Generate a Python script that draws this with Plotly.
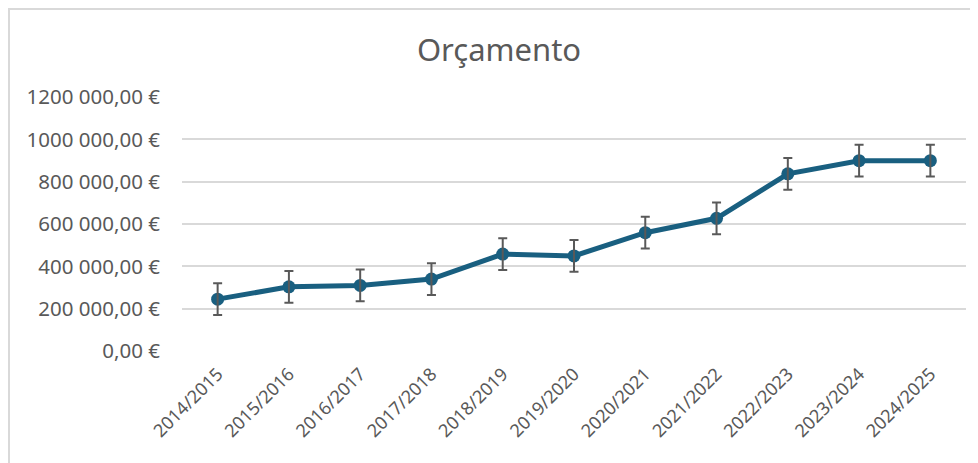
import plotly.graph_objects as go

categories = ["2014/2015", "2015/2016", "2016/2017", "2017/2018", "2018/2019",
              "2019/2020", "2020/2021", "2021/2022", "2022/2023", "2023/2024", "2024/2025"]
values = [245000, 303000, 310000, 340000, 458000, 449000, 559000, 627000, 837000, 899000, 899000]
error_value = 75000
tick_vals = [0, 200000, 400000, 600000, 800000, 1000000, 1200000]
tick_text = ["0,00 €", "200 000,00 €", "400 000,00 €", "600 000,00 €",
             "800 000,00 €", "1000 000,00 €", "1200 000,00 €"]

FONT = "Noto Sans"
GRAY = "#595959"
LINE = "#195F80"
OFF = 8  # default page body margin
W, H = 978 - OFF, 463 - OFF
# plot area in page pixels: x 182..966, y 97..351
L, T = 182 - OFF, 97 - OFF
R = W - (966 - OFF)
B = H - (351 - OFF)

fig = go.Figure()
fig.add_trace(go.Scatter(
    x=categories, y=values, mode="lines+markers",
    line=dict(color=LINE, width=5),
    marker=dict(color=LINE, size=13),
    showlegend=False,
))
# error bars drawn on top of the line and markers
fig.add_trace(go.Scatter(
    x=categories, y=values, mode="markers",
    marker=dict(color="rgba(0,0,0,0)", size=1),
    error_y=dict(type="constant", value=error_value, color=GRAY, thickness=2, width=4.5),
    showlegend=False, hoverinfo="skip",
))

pw = W - L - R
ph = H - T - B
fig.add_shape(type="rect", xref="paper", yref="paper",
              x0=(9 - OFF - L) / pw, x1=(W + 20 - L) / pw,
              y0=-(40 + B) / ph, y1=((H - B) - (9 - OFF)) / ph,
              line=dict(color="#d9d9d9", width=2), fillcolor="rgba(0,0,0,0)", layer="below")

fig.update_layout(
    width=W, height=H,
    margin=dict(l=L, r=R, t=T, b=B, autoexpand=False),
    paper_bgcolor="white", plot_bgcolor="white",
    font=dict(family=FONT, color=GRAY),
    title=dict(text="Orçamento", xref="container", x=(499 - OFF) / W, xanchor="center",
               yref="container", y=1 - (50 - OFF) / H, yanchor="middle",
               font=dict(family=FONT, size=31, color=GRAY)),
    xaxis=dict(type="category", tickangle=-45, showgrid=False, showline=False, zeroline=False,
               automargin=False,
               tickfont=dict(family=FONT, size=18, color=GRAY), ticklabelstandoff=8,
               range=[-0.5, len(categories) - 0.5]),
    yaxis=dict(range=[0, 1200000], tickvals=tick_vals, ticktext=tick_text, automargin=False,
               showgrid=True, gridcolor="#d9d9d9", gridwidth=1.5, zeroline=False,
               showline=False, tickfont=dict(family=FONT, size=20.5, color=GRAY),
               ticklabelstandoff=21),
)

fig.write_html("out.html")
